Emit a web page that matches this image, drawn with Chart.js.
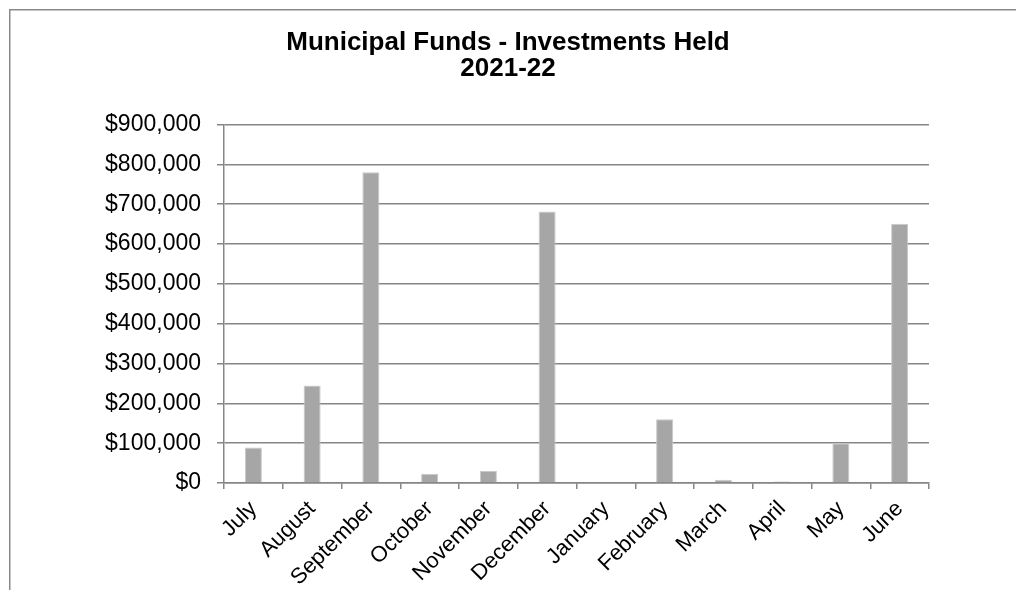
<!DOCTYPE html>
<html>
<head>
<meta charset="utf-8">
<script src="https://cdn.jsdelivr.net/npm/chart.js@4/dist/chart.umd.min.js"></script>
<style>
  html, body { margin: 0; padding: 0; background: #fff; }
  #wrap { width: 1016px; height: 590px; position: relative; }
</style>
</head>
<body>
<div id="wrap"><canvas id="myChart" width="1016" height="590"></canvas></div>
<script>
const months = ['July', 'August', 'September', 'October', 'November', 'December',
                'January', 'February', 'March', 'April', 'May', 'June'];
const investments = [89000, 245000, 780000, 23000, 30000, 682000,
                     0, 160000, 8000, 4000, 100000, 651000];
const titleLines = ['Municipal Funds - Investments Held', '2021-22'];

// left + top frame lines like the original sheet
const frame = {
    id: 'frame',
    beforeDraw(chart) {
        const ctx = chart.ctx;
        ctx.save();
        ctx.strokeStyle = '#8a8a8a';
        ctx.lineWidth = 1.5;
        ctx.beginPath();
        ctx.moveTo(9.75, 590);
        ctx.lineTo(9.75, 9.75);
        ctx.lineTo(1016, 9.75);
        ctx.stroke();
        ctx.restore();
    }
};

const ctx = document.getElementById('myChart').getContext('2d');
const myChart = new Chart(ctx, {
    type: 'bar',
    data: {
        labels: months,
        datasets: [{
            label: 'Investments Held',
            data: investments,
            backgroundColor: '#a6a6a6',
            borderColor: '#c9c9c9',
            borderWidth: 1,
            barPercentage: 0.29,
            categoryPercentage: 1.0
        }]
    },
    options: {
        responsive: false,
        animation: false,
        // symmetric side padding keeps the title centred on the page
        layout: { padding: { left: 87, right: 87, top: 0, bottom: 0 } },
        plugins: {
            legend: { display: false },
            tooltip: { enabled: false },
            title: {
                display: true,
                text: titleLines,
                color: '#000',
                font: { family: 'Liberation Sans, Arial, sans-serif', size: 26, weight: 'bold', lineHeight: 1.03 },
                padding: { top: 29, bottom: 42 }
            }
        },
        scales: {
            x: {
                grid: {
                    drawOnChartArea: false,
                    drawTicks: true,
                    tickLength: 6,
                    color: '#868686',
                    lineWidth: 1.5
                },
                border: { display: true, color: '#868686', width: 1.5 },
                ticks: {
                    color: '#000',
                    autoSkip: false,
                    maxRotation: 45,
                    minRotation: 45,
                    padding: 7,
                    font: { family: 'Liberation Sans, Arial, sans-serif', size: 22 }
                },
                afterFit(scale) { scale.height = 107; }
            },
            y: {
                min: 0,
                max: 900000,
                grid: {
                    color: '#868686',
                    lineWidth: 1.5,
                    tickLength: 7
                },
                border: { display: true, color: '#868686', width: 1.5 },
                ticks: {
                    stepSize: 100000,
                    color: '#000',
                    padding: 16,
                    font: { family: 'Liberation Sans, Arial, sans-serif', size: 23 },
                    callback: v => '$' + v.toLocaleString('en-US')
                },
                afterFit(scale) { scale.width = 137; }
            }
        }
    },
    plugins: [frame]
});
</script>
</body>
</html>
